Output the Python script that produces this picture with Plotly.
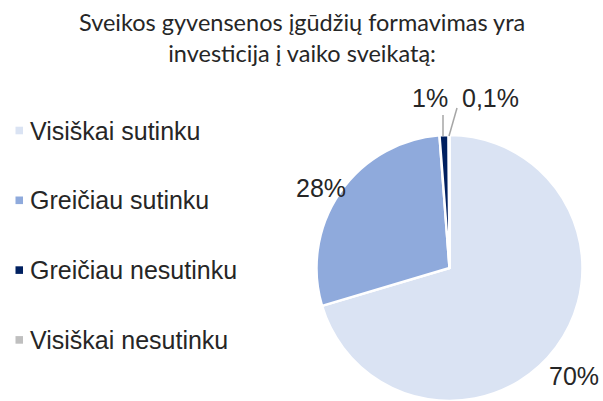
import plotly.graph_objects as go

title_lines = ["Sveikos gyvensenos įgūdžių formavimas yra", "investicija į vaiko sveikatą:"]
categories = ["Visiškai sutinku", "Greičiau sutinku", "Greičiau nesutinku", "Visiškai nesutinku"]
values = [70.4, 28.4, 1.1, 0.1]
value_labels = ["70%", "28%", "1%", "0,1%"]
colors = ["#DAE3F3", "#8FAADC", "#002060", "#BFBFBF"]

W, H = 603, 401
def px(x):
    return x / W
def py(y):
    return 1 - y / H

TXT = "#262626"
FONT = "Liberation Sans, Arial"

fig = go.Figure()
fig.add_trace(go.Pie(
    labels=categories, values=values, sort=False, direction="clockwise", rotation=0,
    marker=dict(colors=colors, line=dict(color="white", width=2.5)),
    textinfo="none", hoverinfo="label+percent", showlegend=False,
    domain=dict(x=[px(316), px(583)], y=[0, py(135)]),
))

annotations = []
shapes = []

# legend (drawn manually so it can sit flush with the left edge)
leg_y0, leg_step = 130.5, 69.8
for i, (c, col) in enumerate(zip(categories, colors)):
    yc = leg_y0 + i * leg_step
    shapes.append(dict(type="rect", xref="paper", yref="paper",
                       x0=px(15.5), x1=px(23), y0=py(yc + 3.8), y1=py(yc - 3.8),
                       fillcolor=col, line=dict(width=0)))
    annotations.append(dict(x=px(28), y=py(yc), xref="paper", yref="paper", text=c,
                            showarrow=False, xanchor="left", yanchor="middle",
                            font=dict(family=FONT, size=25, color=TXT)))

# data labels
label_pos = [(574, 376), (321, 187.5), (430, 98), (490, 98)]
for (x, y), t in zip(label_pos, value_labels):
    annotations.append(dict(x=px(x), y=py(y), xref="paper", yref="paper", text=t,
                            showarrow=False, xanchor="center", yanchor="middle",
                            font=dict(family=FONT, size=25, color=TXT)))

annotations.append(dict(x=0.5, y=py(38), xref="paper", yref="paper",
                        text="<br>".join(title_lines), showarrow=False,
                        xanchor="center", yanchor="middle",
                        font=dict(family="Lato, Carlito, Calibri", size=23.5, color=TXT)))

shapes += [
    dict(type="line", xref="paper", yref="paper", x0=px(443), y0=py(115), x1=px(443), y1=py(136),
         line=dict(color="#A6A6A6", width=1.5)),
    dict(type="line", xref="paper", yref="paper", x0=px(457), y0=py(108), x1=px(449), y1=py(136),
         line=dict(color="#A6A6A6", width=1.5)),
]

fig.update_layout(
    width=W, height=H, margin=dict(l=0, r=0, t=0, b=0),
    paper_bgcolor="white", plot_bgcolor="white",
    annotations=annotations, shapes=shapes, showlegend=False,
)
fig.write_html("out.html", config={"displayModeBar": False},
               post_script="document.body.style.margin='0';")
